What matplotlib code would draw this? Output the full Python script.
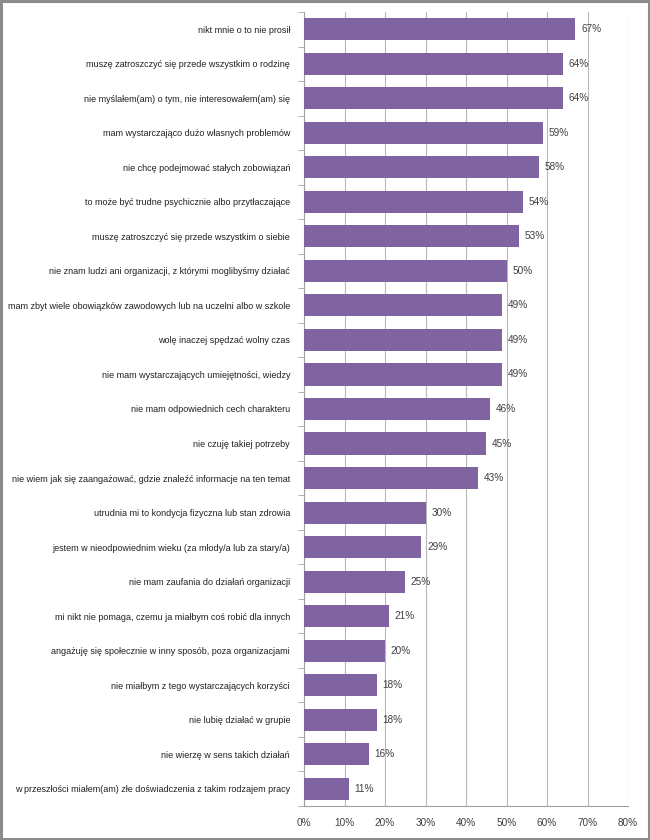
import matplotlib
matplotlib.use('Agg')
import matplotlib.pyplot as plt
from matplotlib.patches import Rectangle

categories = [
    'nikt mnie o to nie prosił',
    'muszę zatroszczyć się przede wszystkim o rodzinę',
    'nie myślałem(am) o tym, nie interesowałem(am) się',
    'mam wystarczająco dużo własnych problemów',
    'nie chcę podejmować stałych zobowiązań',
    'to może być trudne psychicznie albo przytłaczające',
    'muszę zatroszczyć się przede wszystkim o siebie',
    'nie znam ludzi ani organizacji, z którymi moglibyśmy działać',
    'mam zbyt wiele obowiązków zawodowych lub na uczelni albo w szkole',
    'wolę inaczej spędzać wolny czas',
    'nie mam wystarczających umiejętności, wiedzy',
    'nie mam odpowiednich cech charakteru',
    'nie czuję takiej potrzeby',
    'nie wiem jak się zaangażować, gdzie znaleźć informacje na ten temat',
    'utrudnia mi to kondycja fizyczna lub stan zdrowia',
    'jestem w nieodpowiednim wieku (za młody/a lub za stary/a)',
    'nie mam zaufania do działań organizacji',
    'mi nikt nie pomaga, czemu ja miałbym coś robić dla innych',
    'angażuję się społecznie w inny sposób, poza organizacjami',
    'nie miałbym z tego wystarczających korzyści',
    'nie lubię działać w grupie',
    'nie wierzę w sens takich działań',
    'w przeszłości miałem(am) złe doświadczenia z takim rodzajem pracy',
]
values = [67, 64, 64, 59, 58, 54, 53, 50, 49, 49, 49, 46, 45, 43,
          30, 29, 25, 21, 20, 18, 18, 16, 11]
xticks = [0, 10, 20, 30, 40, 50, 60, 70, 80]

plt.rcParams['font.family'] = ['Liberation Sans', 'DejaVu Sans']

fig = plt.figure(figsize=(6.5, 8.4), dpi=100)
fig.patches.append(Rectangle((0.002, 0.0015), 0.996, 0.997, transform=fig.transFigure,
                             fill=False, edgecolor='#8c8c8c', linewidth=2.2))
ax = fig.add_axes([304/650, 34/840, 324/650, 794/840])

# pick a label size so the longest category fits in the space left of the axis
renderer = fig.canvas.get_renderer()
lab_size = 8.5
while lab_size > 4:
    widths = []
    for c in categories:
        t = fig.text(0, 0, c, fontsize=lab_size)
        widths.append(t.get_window_extent(renderer).width)
        t.remove()
    if max(widths) <= 287:
        break
    lab_size -= 0.1

n = len(categories)
ypos = list(range(n))
ax.barh(ypos, values, height=0.64, color='#8064A2', zorder=3)
for y, v in zip(ypos, values):
    ax.text(v + 1.4, y, f'{v}%', va='center', ha='left', fontsize=7.2, color='#404040')

ax.set_ylim(n - 0.5, -0.5)
ax.set_xlim(0, 80)
ax.set_xticks(xticks)
ax.set_xticklabels([f'{t}%' for t in xticks], fontsize=7.2, color='#404040')
ax.set_yticks(ypos)
ax.set_yticklabels(categories, fontsize=lab_size, color='#202020')
ax.set_yticks([i - 0.5 for i in range(n + 1)], minor=True)
ax.tick_params(axis='y', which='major', length=0, pad=10)
ax.tick_params(axis='y', which='minor', length=4, color='#a0a0a0', direction='out')
ax.tick_params(axis='x', length=0, pad=9)
ax.grid(axis='x', color='#b8b8b8', linewidth=0.8, zorder=0)
for s in ['top', 'right']:
    ax.spines[s].set_visible(False)
ax.spines['left'].set_color('#a0a0a0')
ax.spines['bottom'].set_color('#a0a0a0')

fig.savefig('out.png', dpi=100)
